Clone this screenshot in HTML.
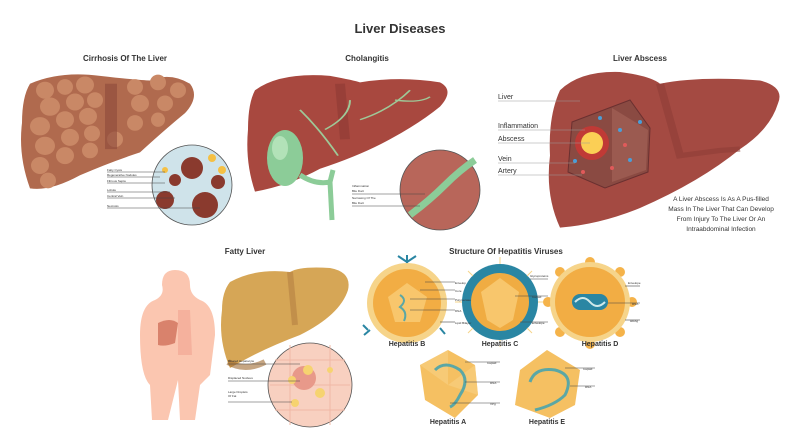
<!DOCTYPE html>
<html><head><meta charset="utf-8"><style>
html,body{margin:0;padding:0;background:#fff}
svg{display:block}
text{font-family:"Liberation Sans",sans-serif;fill:#333}
.t{font-size:8px;font-weight:bold}
.s{font-size:3px}
.l{stroke:#444;stroke-width:.6}
</style></head><body>
<svg width="800" height="442" viewBox="0 0 800 442">
<text x="400" y="33" text-anchor="middle" style="font-size:13px;font-weight:bold">Liver Diseases</text>
<text x="125" y="61" text-anchor="middle" class="t">Cirrhosis Of The Liver</text>
<text x="367" y="61" text-anchor="middle" class="t">Cholangitis</text>
<text x="640" y="61" text-anchor="middle" class="t">Liver Abscess</text>

<g transform="matrix(1 0 0 0.654 0 -1.3)">
<!-- Cirrhosis liver -->
<path d="M30,130 Q60,110 100,118 Q140,125 150,125 Q170,112 190,130 Q200,150 185,175 Q165,200 140,235 Q110,250 80,270 Q50,295 30,290 Q18,240 22,190 Q22,150 30,130Z" fill="#b06a4e"/>
<g fill="#c98866">
<ellipse cx="45" cy="140" rx="9" ry="13"/><ellipse cx="65" cy="135" rx="8" ry="12"/><ellipse cx="85" cy="132" rx="9" ry="13"/><ellipse cx="50" cy="165" rx="10" ry="14"/><ellipse cx="75" cy="158" rx="9" ry="13"/><ellipse cx="95" cy="155" rx="8" ry="12"/>
<ellipse cx="40" cy="195" rx="10" ry="14"/><ellipse cx="65" cy="185" rx="9" ry="13"/><ellipse cx="88" cy="180" rx="9" ry="13"/><ellipse cx="45" cy="225" rx="10" ry="14"/><ellipse cx="70" cy="212" rx="9" ry="13"/><ellipse cx="92" cy="206" rx="8" ry="12"/>
<ellipse cx="40" cy="255" rx="9" ry="13"/><ellipse cx="65" cy="240" rx="9" ry="13"/><ellipse cx="90" cy="232" rx="8" ry="12"/><ellipse cx="115" cy="215" rx="8" ry="12"/><ellipse cx="135" cy="135" rx="8" ry="12"/><ellipse cx="158" cy="128" rx="8" ry="12"/>
<ellipse cx="178" cy="140" rx="8" ry="12"/><ellipse cx="140" cy="160" rx="9" ry="13"/><ellipse cx="165" cy="160" rx="8" ry="12"/><ellipse cx="135" cy="190" rx="8" ry="12"/><ellipse cx="158" cy="185" rx="7" ry="11"/><ellipse cx="48" cy="278" rx="8" ry="12"/>
</g>
<rect x="105" y="130" width="12" height="100" fill="#8e4a3a" opacity=".6"/>
<!-- Cholangitis liver -->
<path d="M255,140 Q280,112 330,118 Q355,125 360,128 Q400,118 440,128 Q455,140 440,165 Q420,190 390,215 Q360,240 320,260 Q290,285 255,295 Q245,250 248,200 Q248,160 255,140Z" fill="#a8483f"/>
<path d="M340,130 L345,215" stroke="#8a3832" stroke-width="10" opacity=".5"/>
<path d="M338,240 Q320,200 300,170 M325,200 Q350,180 350,155 M360,185 Q390,170 410,140 M395,155 Q420,160 430,150" stroke="#9ec998" stroke-width="2" fill="none"/>
<!-- Abscess liver -->
<path d="M560,140 Q580,110 620,112 Q650,118 660,130 Q700,118 760,125 Q785,135 778,160 Q770,200 740,230 Q700,280 640,320 Q600,345 560,350 Q545,300 550,240 Q548,180 560,140Z" fill="#a44a42"/>
<path d="M660,130 L680,240 L720,232 L740,230" stroke="#8a3a34" stroke-width="8" fill="none" opacity=".5"/>
</g>

<!-- gallbladder -->
<ellipse cx="285" cy="158" rx="18" ry="28" fill="#8ccc98"/>
<ellipse cx="280" cy="148" rx="8" ry="12" fill="#b2e2b8"/>
<path d="M300,175 Q315,185 330,182 L333,170 M330,182 L332,220" stroke="#8ccc98" stroke-width="5" fill="none"/>

<!-- Cirrhosis circle -->
<circle cx="192" cy="185" r="40" fill="#cfe3ea" stroke="#555" stroke-width=".8"/>
<g fill="#8a3a2e"><circle cx="192" cy="168" r="11"/><circle cx="165" cy="200" r="9"/><circle cx="205" cy="205" r="13"/><circle cx="175" cy="180" r="6"/><circle cx="218" cy="182" r="7"/></g>
<g fill="#f5c044"><circle cx="212" cy="158" r="4"/><circle cx="222" cy="170" r="4"/><circle cx="165" cy="170" r="3"/></g>
<g class="s"><text x="107" y="171">Fatty Cysts</text><text x="107" y="176">Regenerative Nodules</text><text x="107" y="182">Fibrous Septa</text><text x="107" y="191">Lobule</text><text x="107" y="197">Central Vein</text><text x="107" y="207">Necrosis</text></g>
<g class="l"><line x1="107" y1="172" x2="165" y2="172"/><line x1="107" y1="177" x2="160" y2="177"/><line x1="107" y1="183" x2="165" y2="183"/><line x1="107" y1="192" x2="170" y2="192"/><line x1="107" y1="198" x2="175" y2="198"/><line x1="107" y1="208" x2="200" y2="208"/></g>

<!-- Cholangitis circle -->
<circle cx="440" cy="190" r="40" fill="#b8665a" stroke="#555" stroke-width=".8"/>
<path d="M410,215 Q430,200 445,185 Q460,170 475,160" stroke="#8ccc98" stroke-width="7" fill="none"/>
<g class="s"><text x="352" y="187">Inflammation</text><text x="352" y="192">Bile Duct</text><text x="352" y="199">Narrowing Of The</text><text x="352" y="204">Bile Duct</text></g>
<g class="l"><line x1="352" y1="194" x2="425" y2="194"/><line x1="352" y1="206" x2="420" y2="206"/></g>

<!-- Abscess inset -->
<polygon points="572,122 630,100 650,128 648,172 605,188 568,172" fill="#8a4a42" stroke="#6a3030" stroke-width="1"/>
<polygon points="612,108 648,130 646,170 612,182" fill="#9b5a50"/>
<circle cx="592" cy="143" r="17" fill="#c03a36"/>
<circle cx="592" cy="143" r="11" fill="#fbcf55"/>
<g fill="#4a9ed8"><circle cx="575" cy="161" r="2"/><circle cx="600" cy="118" r="2"/><circle cx="620" cy="130" r="2"/><circle cx="640" cy="122" r="2"/><circle cx="630" cy="160" r="2"/></g>
<g fill="#e05a5a"><circle cx="583" cy="172" r="2"/><circle cx="625" cy="145" r="2"/><circle cx="612" cy="168" r="2"/></g>
<g style="font-size:7px"><text x="498" y="99">Liver</text><text x="498" y="128">Inflammation</text><text x="498" y="141">Abscess</text><text x="498" y="161">Vein</text><text x="498" y="173">Artery</text></g>
<g stroke="#999" stroke-width=".6"><line x1="498" y1="101" x2="580" y2="101"/><line x1="498" y1="130" x2="585" y2="130"/><line x1="498" y1="143" x2="590" y2="143"/><line x1="498" y1="163" x2="575" y2="163"/><line x1="498" y1="175" x2="582" y2="175"/></g>
<g text-anchor="middle" style="font-size:6.5px"><text x="721" y="201">A Liver Abscess Is As A Pus-filled</text><text x="721" y="211">Mass In The Liver That Can Develop</text><text x="721" y="221">From Injury To The Liver Or An</text><text x="721" y="231">Intraabdominal Infection</text></g>

<!-- Fatty liver -->
<text x="245" y="254" text-anchor="middle" class="t">Fatty Liver</text>
<g transform="translate(0,-15)">
<path d="M175,285 Q190,285 190,300 Q190,310 200,315 Q215,320 215,350 L210,390 Q205,395 200,400 L195,435 L180,435 L178,395 L168,435 L152,435 L150,400 Q140,390 140,350 Q140,320 155,315 Q165,310 162,300 Q162,285 175,285Z" fill="#fbc6b0"/>
<path d="M158,338 Q170,332 178,338 L175,358 Q165,362 158,360Z" fill="#d9826c"/>
<path d="M178,325 L190,325 L192,370 L178,370Z" fill="#f2a896" opacity=".7"/>
</g>
<path d="M230,282 Q255,268 290,272 Q300,266 330,268 Q352,272 348,290 Q340,315 300,335 Q260,350 230,368 Q218,340 222,310 Q222,292 230,282Z" fill="#d6a656"/>
<path d="M290,272 L295,325" stroke="#b07a40" stroke-width="6" opacity=".5"/>
<path d="M228,362 Q245,372 265,362" stroke="#a06a30" stroke-width="6" fill="none" opacity=".6"/>
<circle cx="310" cy="385" r="42" fill="#f8d0c0" stroke="#555" stroke-width=".8"/>
<g stroke="#f0b8a6" stroke-width="1" fill="none"><path d="M275,360 L345,360 M270,385 L350,385 M275,410 L345,410 M290,345 L290,425 M330,345 L330,425"/></g>
<circle cx="304" cy="378" r="12" fill="#e8998a"/><circle cx="308" cy="370" r="5" fill="#f6d370"/><circle cx="292" cy="380" r="4" fill="#f6d370"/><circle cx="320" cy="393" r="5" fill="#f6d370"/><circle cx="295" cy="403" r="4" fill="#f6d370"/><circle cx="330" cy="370" r="3" fill="#f6d370"/>
<g class="s"><text x="228" y="362">Bloated Hepatocyte</text><text x="228" y="379">Displaced Nucleus</text><text x="228" y="393">Large Droplets</text><text x="228" y="397">Of Fat</text></g>
<g class="l"><line x1="228" y1="364" x2="300" y2="364"/><line x1="228" y1="381" x2="300" y2="381"/><line x1="228" y1="402" x2="292" y2="402"/></g>

<!-- Viruses -->
<text x="506" y="254" text-anchor="middle" class="t">Structure Of Hepatitis Viruses</text>
<circle cx="407" cy="303" r="40" fill="#f6d48a"/><circle cx="407" cy="303" r="34" fill="#f2ad44"/>
<polygon points="407,283 427,297 420,322 395,322 388,297" fill="#f8c66c"/>
<path d="M400,295 q8,5 0,12 q8,5 4,14" stroke="#5ba7a5" stroke-width="2" fill="none"/>
<path d="M407,263 v-8 M398,256 l9,6 9,-6 M370,330 l-6,5 M363,325 l5,5 M440,328 l5,6" stroke="#2a86a3" stroke-width="2" fill="none"/>
<circle cx="500" cy="302" r="38" fill="#2a86a3"/><circle cx="500" cy="302" r="29" fill="#f0ac42"/>
<polygon points="500,278 519,292 513,320 500,328 487,320 481,292" fill="#f8c66c"/>
<g stroke="#f6d48a" stroke-width="1"><line x1="500" y1="264" x2="500" y2="257"/><line x1="473" y1="276" x2="468" y2="271"/><line x1="527" y1="276" x2="532" y2="271"/><line x1="462" y1="302" x2="455" y2="302"/><line x1="538" y1="302" x2="545" y2="302"/><line x1="473" y1="328" x2="468" y2="333"/><line x1="527" y1="328" x2="532" y2="333"/><line x1="500" y1="340" x2="500" y2="347"/></g>
<g fill="#f5b34a"><circle cx="590" cy="262" r="5"/><circle cx="620" cy="272" r="5"/><circle cx="560" cy="272" r="5"/><circle cx="548" cy="302" r="5"/><circle cx="632" cy="302" r="5"/><circle cx="560" cy="332" r="5"/><circle cx="620" cy="332" r="5"/><circle cx="590" cy="344" r="5"/></g>
<circle cx="590" cy="302" r="40" fill="#f6d48a"/><circle cx="590" cy="302" r="35" fill="#f2ad44"/>
<rect x="572" y="294" width="36" height="16" rx="8" fill="#2a86a3"/>
<path d="M575,302 q8,-8 15,0 t15,0" stroke="#cfe9ea" stroke-width="2" fill="none"/>
<polygon points="448,350 475,365 478,395 455,418 425,400 420,365" fill="#f5c062"/>
<polygon points="448,350 448,385 475,365 478,395 448,385 455,418 448,385 425,400 448,385 420,365" fill="#f8d184" opacity=".6"/>
<path d="M435,370 q10,-10 25,0 q10,10 0,25 q-5,10 -10,12" stroke="#5ba7a5" stroke-width="3" fill="none"/>
<polygon points="547,350 580,370 575,405 550,418 515,405 520,370" fill="#f5c062"/>
<path d="M530,382 q5,-15 25,-12 q20,5 10,25 q-10,10 -30,15" stroke="#5ba7a5" stroke-width="3" fill="none"/>
<g class="t" text-anchor="middle" style="font-size:7px"><text x="407" y="346">Hepatitis B</text><text x="500" y="346">Hepatitis C</text><text x="600" y="346">Hepatitis D</text><text x="448" y="424">Hepatitis A</text><text x="547" y="424">Hepatitis E</text></g>
<g class="l" stroke-width=".4"><line x1="425" y1="282" x2="455" y2="282"/><line x1="420" y1="290" x2="455" y2="290"/><line x1="410" y1="299" x2="455" y2="299"/><line x1="410" y1="310" x2="455" y2="310"/><line x1="440" y1="322" x2="455" y2="322"/><line x1="530" y1="279" x2="548" y2="279"/><line x1="515" y1="296" x2="548" y2="296"/><line x1="520" y1="322" x2="548" y2="322"/><line x1="625" y1="286" x2="640" y2="286"/><line x1="608" y1="303" x2="640" y2="303"/><line x1="625" y1="320" x2="640" y2="320"/><line x1="465" y1="362" x2="500" y2="362"/><line x1="465" y1="382" x2="500" y2="382"/><line x1="450" y1="403" x2="500" y2="403"/><line x1="565" y1="368" x2="595" y2="368"/><line x1="570" y1="386" x2="595" y2="386"/></g>
<g class="s"><text x="455" y="284">Envelop</text><text x="455" y="292">Core</text><text x="455" y="301">Polymerase</text><text x="455" y="312">DNA</text><text x="455" y="324">Lipid Bilayer</text><text x="530" y="277">Glycoproteins</text><text x="532" y="298">Capsid</text><text x="532" y="324">Envelope</text><text x="628" y="284">Envelope</text><text x="632" y="305">RNA</text><text x="630" y="322">HDAg</text><text x="487" y="364">Capsid</text><text x="490" y="384">RNA</text><text x="490" y="405">VPg</text><text x="583" y="370">Capsid</text><text x="585" y="388">RNA</text></g>
</svg>
</body></html>
